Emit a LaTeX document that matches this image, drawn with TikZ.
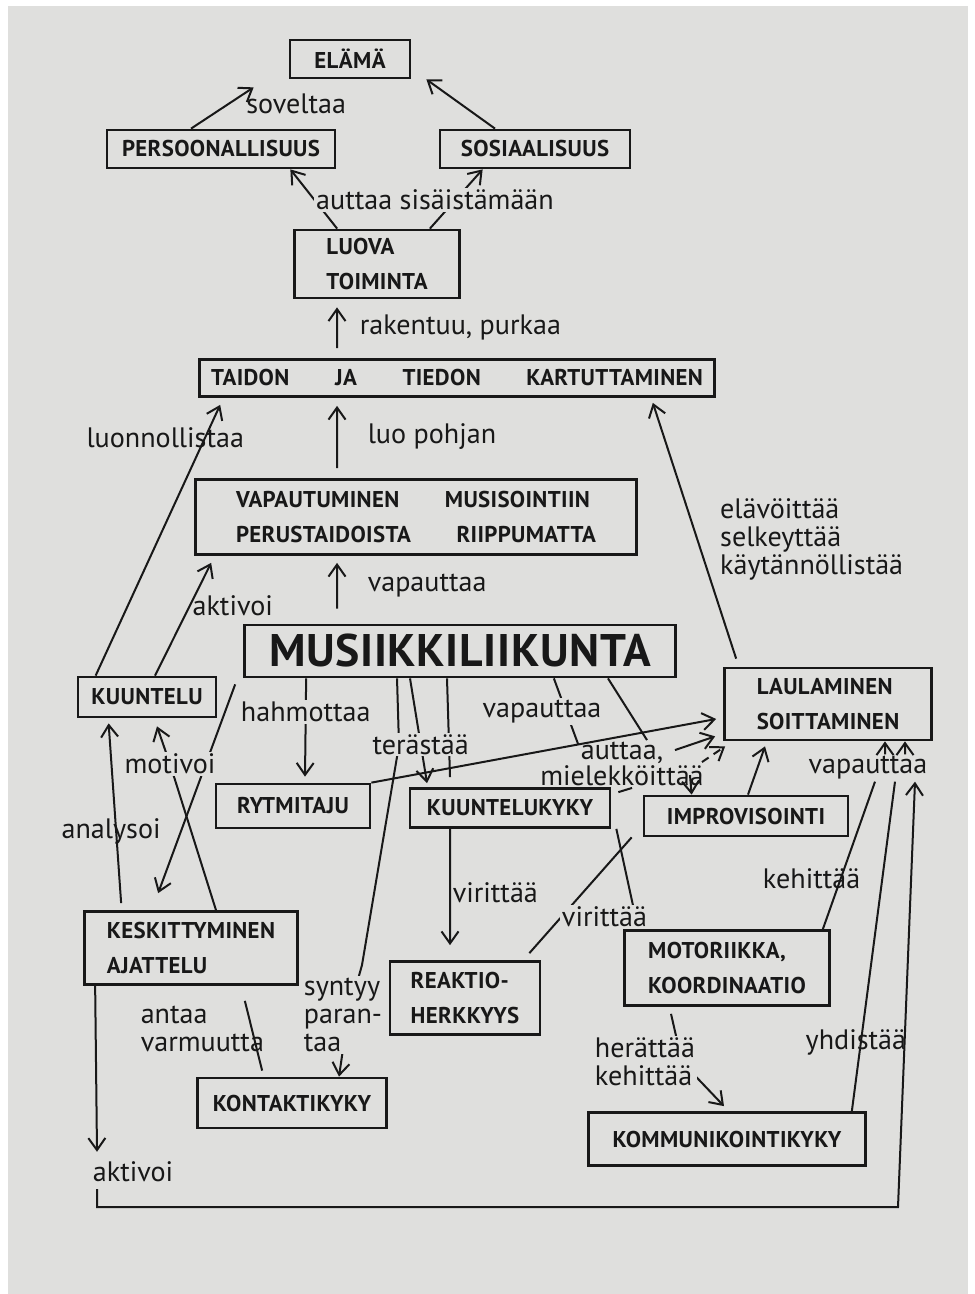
\documentclass[tikz,border=0pt]{standalone}
\usepackage{fontspec}
\setmainfont{PT Sans}
\newfontfamily\capsfont[LetterSpace=1.5]{PT Sans}
\usetikzlibrary{arrows.meta,positioning}
\definecolor{paper}{RGB}{223,223,221}
\definecolor{ink}{RGB}{24,24,24}

\begin{document}
\begin{tikzpicture}[x=0.02cm, y=-0.02cm,
    box/.style={draw=ink, line width=.55mm, inner sep=0pt, text=ink,
        font=\capsfont\bfseries\fontsize{13}{20}\selectfont},
    lbl/.style={text=ink, inner sep=1pt, font=\fontsize{16}{16}\selectfont},
    gap/.style={lbl, fill=paper},
    con/.style={draw=ink, line width=.4mm},
    arr/.style={con, -{Straight Barb[length=2.4mm,width=3.4mm]}}]

        \fill[white](0,0) rectangle (974,1294);
        \fill[paper](8,6) rectangle (968,1294);
        \useasboundingbox (0,0) rectangle (974,1294);

        \node[box, minimum width=2.4cm, minimum height=.76cm] (elama) at(350,59){ELÄMÄ};
        \node[box, minimum width=4.56cm, minimum height=.76cm] (pers) at(221,149){PERSOONALLISUUS};
        \node[box, minimum width=3.8cm, minimum height=.76cm] (sos) at(535,149){SOSIAALISUUS};
        \node[box, minimum width=3.3cm, minimum height=1.36cm, align=left] (luova) at(377,264){LUOVA\\TOIMINTA};
        \node[box, minimum width=10.3cm, minimum height=.74cm] (taidon) at(457,378){TAIDON\qquad JA\qquad TIEDON\qquad KARTUTTAMINEN};
        \node[box, minimum width=8.82cm, minimum height=1.5cm, align=left] (vapaut) at(416,517){VAPAUTUMINEN\qquad MUSISOINTIIN\\PERUSTAIDOISTA\qquad RIIPPUMATTA};
        \node[box, minimum width=8.62cm, minimum height=1.04cm,
            font=\capsfont\bfseries\fontsize{26}{28}\selectfont] (musiikki) at(460,651){MUSIIKKILIIKUNTA};

        \node[box, minimum width=2.76cm, minimum height=.8cm] (kuuntelu) at(147,697){KUUNTELU};
        \node[box, minimum width=4.14cm, minimum height=1.44cm, align=left] (laulu) at(828,704){LAULAMINEN\\SOITTAMINEN};
        \node[box, minimum width=3.08cm, minimum height=.88cm] (rytmi) at(293,806){RYTMITAJU};
        \node[box, minimum width=4cm, minimum height=.78cm] (kyky) at(510,808){KUUNTELUKYKY};
        \node[box, minimum width=4.08cm, minimum height=.8cm] (impro) at(746,816){IMPROVISOINTI};
        \node[box, minimum width=4.26cm, minimum height=1.46cm, align=left] (keskit) at(191,948){KESKITTYMINEN\\AJATTELU};
        \node[box, minimum width=3cm, minimum height=1.46cm, align=left] (reaktio) at(465,998){REAKTIO-\\HERKKYYS};
        \node[box, minimum width=4.1cm, minimum height=1.5cm, align=left] (motor) at(727,968){MOTORIIKKA,\\KOORDINAATIO};
        \node[box, minimum width=3.78cm, minimum height=1cm] (kontakti) at(292,1103){KONTAKTIKYKY};
        \node[box, minimum width=5.54cm, minimum height=1.06cm] (kommun) at(727,1139){KOMMUNIKOINTIKYKY};

        \node[lbl, align=center, font=\fontsize{16}{13.5}\selectfont] (auttaa) at(622,764){auttaa,\\mielekköittää};
        \node[lbl] (vap2) at(868,768){vapauttaa};
        \node[lbl] (akt) at(133,1172){aktivoi};
        \coordinate (loopc) at(898,1207);

        \draw[arr]([xshift=-6mm]pers.north) to node[lbl, pos=.6, right=3mm]{soveltaa} ([shift={(-7mm,-1.6mm)}]elama.south west);
        \draw[arr]([xshift=-8mm]sos.north) to ([xshift=3mm]elama.south east);
        \draw[arr]([xshift=.88cm]luova.north west) to ([xshift=-.92cm]pers.south east);
        \draw[arr]([xshift=-.62cm]luova.north east) to ([xshift=.88cm]sos.south west);
        \node[gap] (sisaist) at(435,200){auttaa sisäistämään};

        \draw[arr]([shift={(-2.4cm,.2cm)}]taidon.north) to node[lbl, right=4mm]{rakentuu, purkaa} ([shift={(-.8cm,-.16cm)}]luova.south);
        \draw[arr]([shift={(-1.58cm,.2cm)}]vapaut.north) to node[lbl, right=5.6mm]{luo pohjan} ([shift={(-2.4cm,-.16cm)}]taidon.south);
        \draw[arr]([shift={(-2.46cm,.3cm)}]musiikki.north) to node[lbl, right=5.6mm]{vapauttaa} ([shift={(-1.58cm,-.14cm)}]vapaut.south);

        \draw[arr]([xshift=.38cm]kuuntelu.north west) to node[lbl, pos=.88, xshift=-.8cm]{luonnollistaa} ([shift={(.44cm,-.14cm)}]taidon.south west);
        \draw[arr]([xshift=.16cm]kuuntelu.north) to node[lbl, pos=.62, right]{aktivoi} ([shift={(.34cm,-.14cm)}]vapaut.south west);
        \draw[arr]([shift={(.26cm,.16cm)}]laulu.north west) to node[lbl, pos=.465, anchor=west, xshift=.4cm, align=left]{elävöittää\\selkeyttää\\käytännöllistää} ([shift={(-1.26cm,-.1cm)}]taidon.south east);

        \draw[arr]([xshift=-1.26cm]musiikki.south) -- (399,745) -- (362,965) -- (348,1015) node[gap, align=left, xshift=-.1cm]{syntyy\\paran-\\taa} -- ([xshift=.94cm]kontakti.north);
        \draw[con]([xshift=-.26cm]musiikki.south) to ([shift={(-1.2cm,.2cm)}]kyky.north);
        \draw[arr](rytmi.north east) to coordinate[pos=.6] (vapj) ([shift={(-.14cm,-.3cm)}]laulu.west);
        \draw[arr]([xshift=-1cm]musiikki.south) to node[gap, pos=.63]{terästää} ([shift={(-1.66cm,.08cm)}]kyky.north);
        \draw[arr]([xshift=1.26cm]musiikki.south west) to node[gap, pos=.34]{hahmottaa} ([shift={(.24cm,.12cm)}]rytmi.north);
        \draw[con]([xshift=-2.46cm]musiikki.south east) to node[gap, pos=.5, xshift=-.48cm]{vapauttaa} (vapj);

        \draw[con]([xshift=2.96cm]musiikki.south) to ([xshift=.5cm]auttaa.north);
        \draw[con]([shift={(.14cm,-.1cm)}]kyky.north east) to ([xshift=.2cm]auttaa.south);
        \draw[arr]([shift={(1.06cm,-.2cm)}]auttaa.north) to ([shift={(-.16cm,.1cm)}]laulu.south west);
        \draw[arr, dash pattern=on 1.6mm off 1.2mm]([shift={(1.6cm,-.44cm)}]auttaa.north) to ([shift={(.04cm,-.1cm)}]laulu.south west);
        \draw[arr]([shift={(1.36cm,-.7cm)}]auttaa.north) to ([xshift=.98cm]impro.north west);
        \draw[arr]([xshift=.04cm]impro.north) to ([shift={(-1.26cm,-.1cm)}]laulu.south);

        \draw[arr]([shift={(-.16cm,-.12cm)}]musiikki.south west) to ([shift={(1.5cm,.34cm)}]keskit.north west);
        \draw[arr]([shift={(.76cm,.14cm)}]keskit.north west) to node[lbl, pos=.4, xshift=-.1cm]{analysoi} ([shift={(.64cm,-.1cm)}]kuuntelu.south west);
        \draw[arr]([xshift=.5cm]keskit.north) -- (170,764) node[gap]{motivoi} -- ([shift={(.2cm,-.16cm)}]kuuntelu.south);
        \draw[con]([shift={(-1.08cm,-.3cm)}]keskit.south east) to node[lbl, pos=.55, xshift=-1.04cm, yshift=.2cm, align=left]{antaa\\varmuutta} ([shift={(1.32cm,.12cm)}]kontakti.north west);

        \draw[arr]([xshift=-1.2cm]kyky.south) to node[lbl, pos=.55, right]{virittää} ([shift={(-.3cm,.3cm)}]reaktio.north);
        \draw[con]([xshift=-.22cm]impro.south west) to ([shift={(-.24cm,.14cm)}]reaktio.north east);
        \draw[con]([xshift=.1cm]kyky.south east) to node[gap, pos=.88, xshift=-.62cm]{virittää} ([xshift=.3cm]motor.north west);
        \draw[arr]([shift={(-1.12cm,-.14cm)}]motor.south) -- (682,1062) node[gap, align=left, xshift=-.74cm]{herättää\\kehittää} -- ([shift={(-.06cm,.1cm)}]kommun.north);

        \draw[con]([xshift=-.16cm]motor.north east) to node[lbl, pos=.34, xshift=-.58cm]{kehittää} ([xshift=.14cm]vap2.south);
        \draw[con]([xshift=-.3cm]kommun.north east) to node[lbl, pos=.21, xshift=-.1cm]{yhdistää} ([xshift=.54cm]vap2.south);
        \draw[arr]([xshift=.34cm]vap2.north) to ([xshift=1.14cm]laulu.south);
        \draw[arr]([xshift=.74cm]vap2.north) to ([xshift=1.54cm]laulu.south);

        \draw[arr]([xshift=.24cm]keskit.south west) to ([shift={(-.72cm,.16cm)}]akt.north);
        \draw[arr]([shift={(-.72cm,-.1cm)}]akt.south) |- (loopc) -- ([xshift=.94cm]vap2.south);
\end{tikzpicture}
\end{document}
